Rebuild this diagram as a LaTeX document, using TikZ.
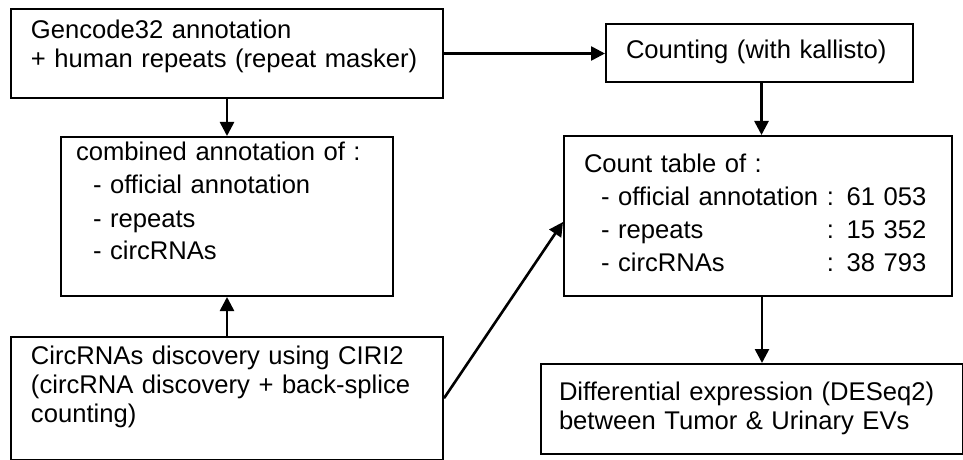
\documentclass[tikz,border=0pt]{standalone}
\usepackage{fontspec}
\setmainfont{Liberation Sans}
\usetikzlibrary{arrows.meta}
\begin{document}
\begin{tikzpicture}[x=0.5pt,y=-0.5pt,
  box/.style={draw, line width=1pt, rectangle, anchor=north west, inner ysep=0pt, align=left,
    font=\fontsize{12.8}{14.5}\selectfont},
  listbox/.style={box, font=\fontsize{12.8}{16.5}\selectfont},
  conn/.style={line width=1.3pt, -{Triangle[length=7pt,width=7pt]}}]
\useasboundingbox (0,0) rectangle (963,460);
\node[box, inner xsep=10pt, text width=196pt, text height=15pt, text depth=29.5pt] (b1) at (10,8)
  {\begin{tabular}[t]{@{}l@{}}Gencode32 annotation\\+ human repeats (repeat masker)\end{tabular}};
\node[box, inner xsep=10pt, text width=133.5pt, text height=17.5pt, text depth=11.5pt] (b2) at (605,23)
  {\begin{tabular}[t]{@{}l@{}}Counting (with kallisto)\end{tabular}};
\node[listbox, inner xsep=7.5pt, text width=151pt, text height=12pt, text depth=67.5pt] (b3) at (60,136)
  {\begin{tabular}[t]{@{}l@{}}combined annotation of :\\
   \hspace*{8.5pt}- official annotation\\
   \hspace*{8.5pt}- repeats\\
   \hspace*{8.5pt}- circRNAs\end{tabular}};
\node[listbox, inner xsep=10pt, text width=174pt, text height=18pt, text depth=62pt] (b4) at (563,135)
  {\begin{tabular}[t]{@{}l@{}l@{}}\multicolumn{2}{@{}l@{}}{Count table of :}\\
   \hspace*{8.5pt}- official annotation\ \mbox{} & : 61 053\\
   \hspace*{8.5pt}- repeats & : 15 352\\
   \hspace*{8.5pt}- circRNAs & : 38 793\end{tabular}};
\node[box, inner xsep=10pt, text width=196pt, text height=13.5pt, text depth=47.75pt] (b5) at (10,336)
  {\begin{tabular}[t]{@{}l@{}}CircRNAs discovery using CIRI2\\(circRNA discovery + back-splice\\counting)\end{tabular}};
\node[box, inner xsep=9pt, text width=192.75pt, text height=18pt, text depth=27pt] (b6) at (540,363)
  {\begin{tabular}[t]{@{}l@{}}Differential expression (DESeq2)\\between Tumor \& Urinary EVs\end{tabular}};
\draw[conn] (b1.east) -- (b1.east -| b2.west);
\draw[conn] (b1.south) -- (b3.north);
\draw[conn] (b5.north) -- (b3.south);
\draw[conn] ([xshift=1pt]b2.south) -- ([xshift=1pt]b2.south |- b4.north);
\draw[conn] ([xshift=2pt]b4.south) -- ([xshift=2pt]b4.south |- b6.north);
\draw[conn] (b5.east) -- ([yshift=-3pt]b4.west);
\end{tikzpicture}
\end{document}
